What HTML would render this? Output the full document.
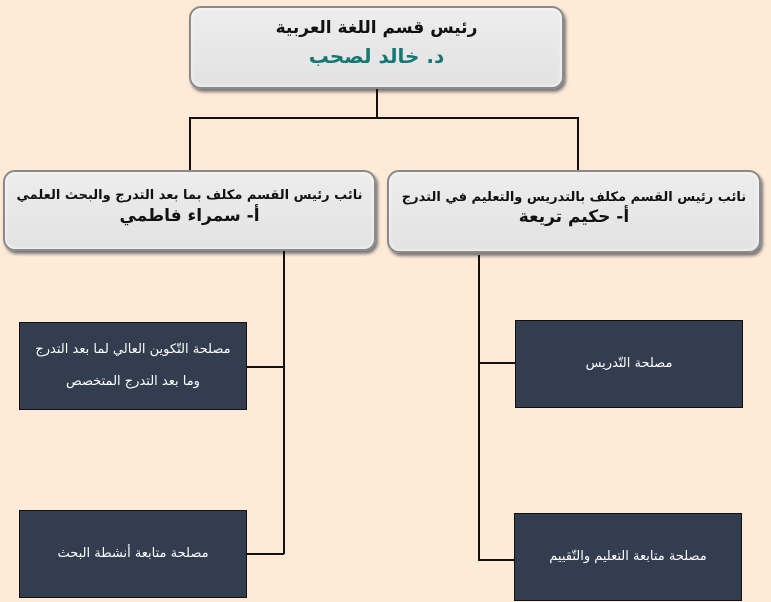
<!DOCTYPE html>
<html><head><meta charset="utf-8"><style>
body{margin:0;width:771px;height:602px;background:#ffead7;position:relative;overflow:hidden;font-family:"DejaVu Sans","Liberation Sans",sans-serif;direction:rtl}
.g{position:absolute;background:linear-gradient(#ededed,#e2e2e2);border:2px solid #8a8a8a;border-radius:12px;box-shadow:2px 3px 3px #777, inset 0 0 4px #fff;text-align:center;color:#111;font-weight:bold;box-sizing:border-box;white-space:nowrap}
.d{position:absolute;background:#323e4f;border:1px solid #111;color:#fff;box-sizing:border-box;display:flex;align-items:center;justify-content:center;text-align:center;font-size:13px;line-height:32px;white-space:nowrap}
.l{position:absolute;background:#111}
</style></head><body>
<div class="g" style="left:189px;top:6px;width:375px;height:83px;">
<div style="font-size:17px;margin-top:10px">رئيس قسم اللغة العربية</div>
<div style="font-size:20px;color:#137872;margin-top:6px">د. خالد لصحب</div></div>
<div class="g" style="left:3px;top:170px;width:373px;height:81px;">
<div style="font-size:13px;margin-top:16px">نائب رئيس القسم مكلف بما بعد التدرج والبحث العلمي</div>
<div style="font-size:17px;margin-top:3px">أ- سمراء فاطمي</div></div>
<div class="g" style="left:387px;top:170px;width:374px;height:83px;">
<div style="font-size:13px;margin-top:18px">نائب رئيس القسم مكلف بالتدريس والتعليم في التدرج</div>
<div style="font-size:17px;margin-top:2px">أ- حكيم تريعة</div></div>
<div class="l" style="left:376px;top:89px;width:2px;height:29px"></div>
<div class="l" style="left:189px;top:117px;width:390px;height:2px"></div>
<div class="l" style="left:189px;top:117px;width:2px;height:53px"></div>
<div class="l" style="left:577px;top:117px;width:2px;height:53px"></div>
<div class="l" style="left:283px;top:251px;width:2px;height:303px"></div>
<div class="l" style="left:478px;top:255px;width:2px;height:306px"></div>
<div class="l" style="left:246px;top:366px;width:38px;height:2px"></div>
<div class="l" style="left:246px;top:553px;width:38px;height:2px"></div>
<div class="l" style="left:478px;top:362px;width:37px;height:2px"></div>
<div class="l" style="left:478px;top:559px;width:37px;height:2px"></div>
<div class="d" style="left:19px;top:322px;width:228px;height:88px">مصلحة التّكوين العالي لما بعد التدرج<br>وما بعد التدرج المتخصص</div>
<div class="d" style="left:19px;top:510px;width:228px;height:88px">مصلحة متابعة أنشطة البحث</div>
<div class="d" style="left:515px;top:320px;width:228px;height:88px">مصلحة التّدريس</div>
<div class="d" style="left:514px;top:513px;width:228px;height:88px">مصلحة متابعة التعليم والتّقييم</div>
</body></html>
